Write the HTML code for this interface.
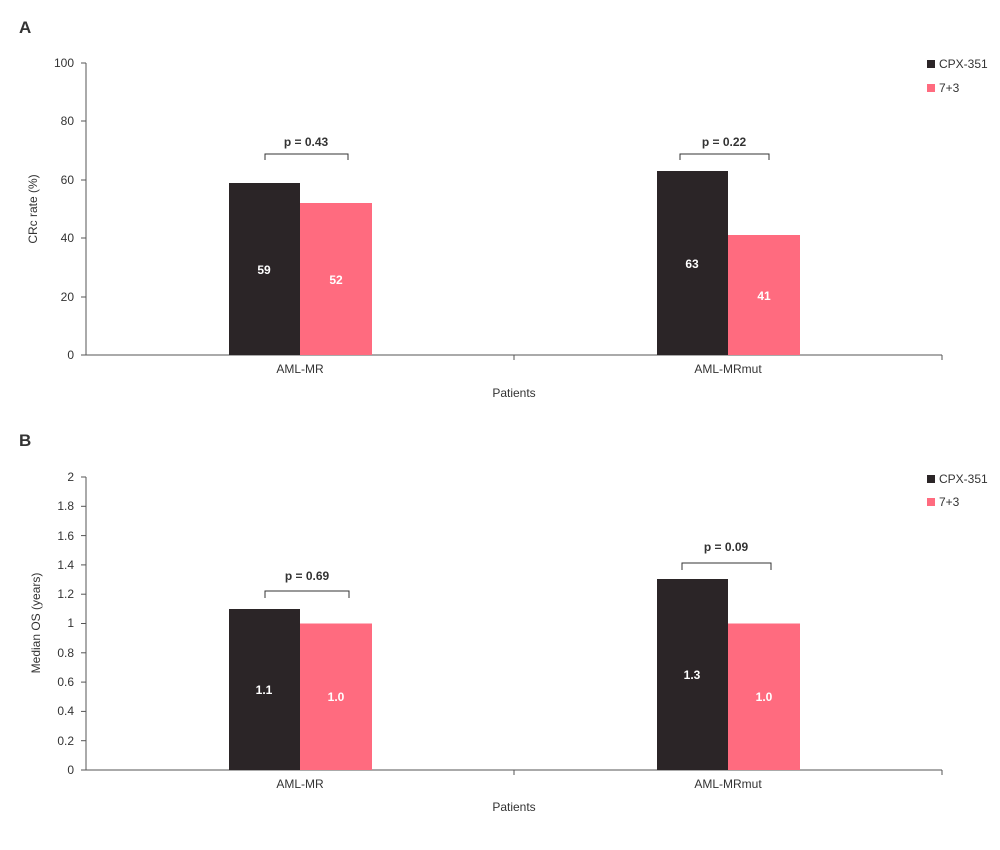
<!DOCTYPE html>
<html><head><meta charset="utf-8"><style>
body{margin:0;background:#fff}
text{font-family:"Liberation Sans",Arial,sans-serif;fill:#333}
</style></head><body>
<svg width="1000" height="845" xmlns="http://www.w3.org/2000/svg">
<g font-size="12">
<!-- Panel A -->
<text x="19" y="33" font-size="17" font-weight="bold" fill="#222">A</text>
<line x1="86" y1="63" x2="86" y2="355" stroke="#555"/>
<line x1="86" y1="355" x2="942" y2="355" stroke="#555"/>
<g stroke="#555">
<line x1="81" y1="63" x2="86" y2="63"/><line x1="81" y1="121" x2="86" y2="121"/>
<line x1="81" y1="180" x2="86" y2="180"/><line x1="81" y1="238" x2="86" y2="238"/>
<line x1="81" y1="297" x2="86" y2="297"/><line x1="81" y1="355" x2="86" y2="355"/>
<line x1="514" y1="355" x2="514" y2="360"/><line x1="942" y1="355" x2="942" y2="360"/>
</g>
<g text-anchor="end">
<text x="74" y="67">100</text><text x="74" y="125">80</text><text x="74" y="184">60</text>
<text x="74" y="242">40</text><text x="74" y="301">20</text><text x="74" y="359">0</text>
</g>
<text transform="translate(37,209) rotate(-90)" text-anchor="middle">CRc rate (%)</text>
<rect x="229" y="183" width="71" height="172" fill="#2b2527"/>
<rect x="300" y="203" width="72" height="152" fill="#ff6b7f"/>
<rect x="657" y="171" width="71" height="184" fill="#2b2527"/>
<rect x="728" y="235" width="72" height="120" fill="#ff6b7f"/>
<g text-anchor="middle" font-weight="bold">
<text x="264" y="274" fill="#fff" style="fill:#fff">59</text>
<text x="336" y="284" style="fill:#fff">52</text>
<text x="692" y="268" style="fill:#fff">63</text>
<text x="764" y="300" style="fill:#fff">41</text>
<text x="306" y="146">p = 0.43</text>
<text x="724" y="146">p = 0.22</text>
</g>
<path d="M265 160V154H348V160M680 160V154H769V160" fill="none" stroke="#333"/>
<text x="300" y="373" text-anchor="middle">AML-MR</text>
<text x="728" y="373" text-anchor="middle">AML-MRmut</text>
<text x="514" y="397" text-anchor="middle">Patients</text>
<rect x="927" y="60" width="8" height="8" fill="#2b2527"/>
<text x="939" y="68">CPX-351</text>
<rect x="927" y="84" width="8" height="8" fill="#ff6b7f"/>
<text x="939" y="92">7+3</text>

<!-- Panel B -->
<text x="19" y="446" font-size="17" font-weight="bold" fill="#222">B</text>
<line x1="86" y1="477" x2="86" y2="770" stroke="#555"/>
<line x1="86" y1="770" x2="942" y2="770" stroke="#555"/>
<g stroke="#555">
<line x1="81" y1="477" x2="86" y2="477"/><line x1="81" y1="506.3" x2="86" y2="506.3"/>
<line x1="81" y1="535.6" x2="86" y2="535.6"/><line x1="81" y1="564.9" x2="86" y2="564.9"/>
<line x1="81" y1="594.2" x2="86" y2="594.2"/><line x1="81" y1="623.5" x2="86" y2="623.5"/>
<line x1="81" y1="652.8" x2="86" y2="652.8"/><line x1="81" y1="682.1" x2="86" y2="682.1"/>
<line x1="81" y1="711.4" x2="86" y2="711.4"/><line x1="81" y1="740.7" x2="86" y2="740.7"/>
<line x1="81" y1="770" x2="86" y2="770"/>
<line x1="514" y1="770" x2="514" y2="775"/><line x1="942" y1="770" x2="942" y2="775"/>
</g>
<g text-anchor="end">
<text x="74" y="481">2</text><text x="74" y="510">1.8</text><text x="74" y="540">1.6</text>
<text x="74" y="569">1.4</text><text x="74" y="598">1.2</text><text x="74" y="627">1</text>
<text x="74" y="657">0.8</text><text x="74" y="686">0.6</text><text x="74" y="715">0.4</text>
<text x="74" y="745">0.2</text><text x="74" y="774">0</text>
</g>
<text transform="translate(40,623) rotate(-90)" text-anchor="middle">Median OS (years)</text>
<rect x="229" y="609" width="71" height="161" fill="#2b2527"/>
<rect x="300" y="623.5" width="72" height="146.5" fill="#ff6b7f"/>
<rect x="657" y="579" width="71" height="191" fill="#2b2527"/>
<rect x="728" y="623.5" width="72" height="146.5" fill="#ff6b7f"/>
<g text-anchor="middle" font-weight="bold">
<text x="264" y="694" style="fill:#fff">1.1</text>
<text x="336" y="701" style="fill:#fff">1.0</text>
<text x="692" y="679" style="fill:#fff">1.3</text>
<text x="764" y="701" style="fill:#fff">1.0</text>
<text x="307" y="580">p = 0.69</text>
<text x="726" y="551">p = 0.09</text>
</g>
<path d="M265 598V591H349V598M682 570V563H771V570" fill="none" stroke="#333"/>
<text x="300" y="788" text-anchor="middle">AML-MR</text>
<text x="728" y="788" text-anchor="middle">AML-MRmut</text>
<text x="514" y="811" text-anchor="middle">Patients</text>
<rect x="927" y="475" width="8" height="8" fill="#2b2527"/>
<text x="939" y="483">CPX-351</text>
<rect x="927" y="498" width="8" height="8" fill="#ff6b7f"/>
<text x="939" y="506">7+3</text>
</g>
</svg>
</body></html>
